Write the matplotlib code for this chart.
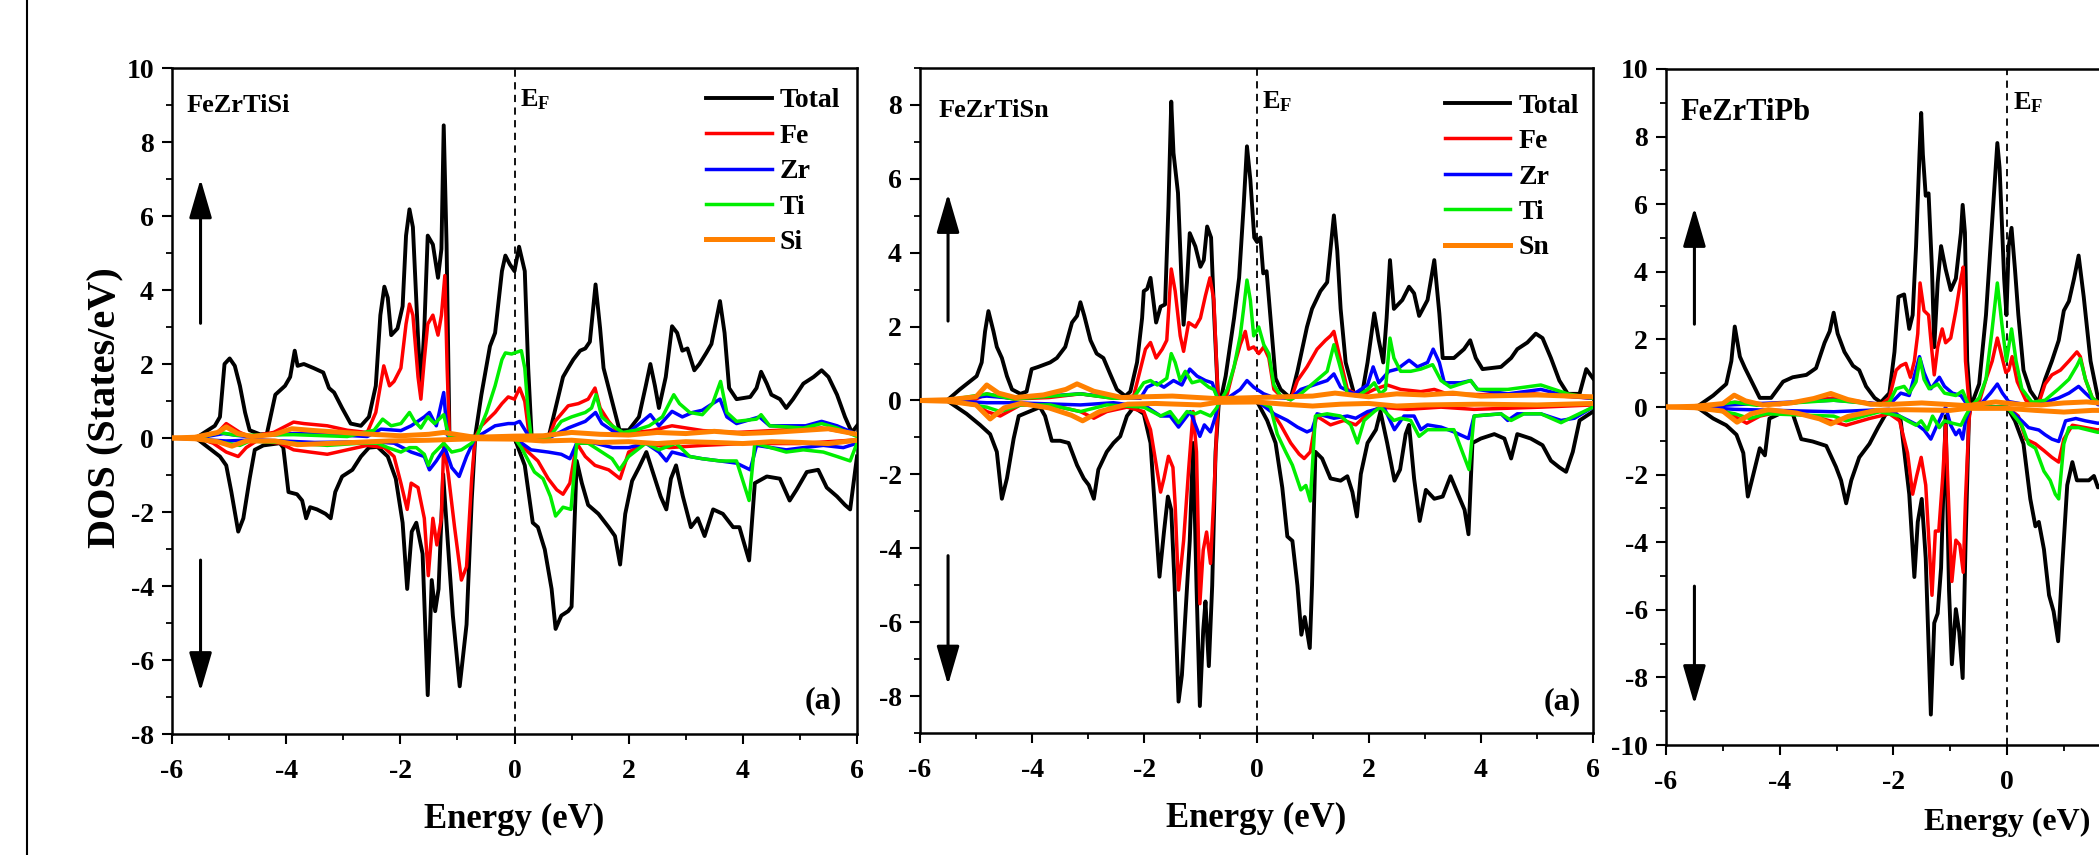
import numpy as np
import matplotlib
matplotlib.use("Agg")
import matplotlib.pyplot as plt
from matplotlib.lines import Line2D
from matplotlib.ticker import MultipleLocator

plt.rcParams['font.family'] = ['Liberation Serif', 'DejaVu Serif']
plt.rcParams['font.weight'] = 'bold'
plt.rcParams['axes.labelweight'] = 'bold'
plt.rcParams['axes.unicode_minus'] = False
plt.rcParams['mathtext.fontset'] = 'custom'
plt.rcParams['mathtext.rm'] = 'Liberation Serif:bold'
plt.rcParams['mathtext.bf'] = 'Liberation Serif:bold'

# ---------------- FeZrTiSi ----------------
si_total_up = [(-6,0),(-5.58,0),(-5.25,0.33),(-5.16,0.57),(-5.08,2.0),(-4.99,2.15),(-4.9,1.95),(-4.81,1.41),(-4.72,0.69),(-4.64,0.21),(-4.46,0.1),(-4.34,0.1),(-4.19,1.17),(-4.02,1.41),(-3.93,1.65),(-3.85,2.36),(-3.8,1.95),(-3.69,2.0),(-3.52,1.89),(-3.35,1.77),(-3.25,1.35),(-3.16,1.23),(-3.02,0.81),(-2.87,0.39),(-2.69,0.33),(-2.55,0.57),(-2.43,1.41),(-2.35,3.32),(-2.28,4.09),(-2.22,3.79),(-2.16,2.78),(-2.05,2.96),(-1.96,3.56),(-1.9,5.47),(-1.84,6.18),(-1.78,5.7),(-1.69,2.72),(-1.64,1.29),(-1.58,2.96),(-1.52,5.47),(-1.43,5.23),(-1.34,4.33),(-1.28,5.11),(-1.24,8.45),(-1.19,5.23),(-1.14,0.1),(-1.1,0),(-0.69,0.04),(-0.58,1.17),(-0.43,2.48),(-0.34,2.84),(-0.22,4.51),(-0.16,4.93),(-0.08,4.69),(0.0,4.51),(0.08,5.17),(0.18,4.51),(0.24,1.89),(0.3,0.04),(0.6,0.04),(0.85,1.65),(0.94,1.89),(1.03,2.12),(1.15,2.36),(1.24,2.42),(1.32,2.6),(1.42,4.15),(1.5,2.96),(1.56,1.89),(1.68,1.17),(1.84,0.21),(2.0,0.21),(2.18,0.57),(2.3,1.41),(2.38,2.0),(2.46,1.41),(2.53,0.81),(2.65,1.65),(2.76,3.02),(2.85,2.84),(2.94,2.36),(3.03,2.42),(3.15,1.83),(3.24,2.0),(3.36,2.3),(3.45,2.54),(3.6,3.7),(3.68,2.84),(3.76,1.35),(3.89,1.05),(4.13,1.11),(4.24,1.35),(4.32,1.79),(4.42,1.47),(4.5,1.17),(4.65,1.05),(4.76,0.81),(4.88,1.05),(5.06,1.47),(5.24,1.65),(5.38,1.83),(5.5,1.65),(5.65,1.17),(5.79,0.57),(5.91,0.15),(6.0,0.33)]
si_total_dn = [(-6,0),(-5.58,0),(-5.16,-0.5),(-5.05,-0.74),(-4.96,-1.46),(-4.84,-2.53),(-4.75,-2.17),(-4.64,-1.1),(-4.55,-0.32),(-4.4,-0.2),(-4.11,-0.14),(-4.05,-0.26),(-3.96,-1.46),(-3.81,-1.52),(-3.72,-1.69),(-3.65,-2.17),(-3.58,-1.87),(-3.46,-1.93),(-3.31,-2.05),(-3.22,-2.17),(-3.14,-1.46),(-3.02,-1.04),(-2.84,-0.86),(-2.69,-0.5),(-2.55,-0.26),(-2.4,-0.24),(-2.22,-0.5),(-2.08,-1.1),(-1.96,-2.29),(-1.88,-4.08),(-1.8,-2.53),(-1.72,-2.29),(-1.61,-3.13),(-1.52,-6.95),(-1.45,-3.84),(-1.39,-4.68),(-1.33,-4.08),(-1.25,-0.98),(-1.16,-3.01),(-1.08,-4.8),(-0.96,-6.71),(-0.84,-5.04),(-0.75,-1.69),(-0.69,-0.02),(0.0,0),(0.18,-0.74),(0.32,-2.29),(0.41,-2.41),(0.53,-3.01),(0.65,-4.08),(0.72,-5.16),(0.82,-4.8),(0.94,-4.68),(1.0,-4.56),(1.09,-0.62),(1.18,-1.22),(1.29,-1.81),(1.47,-2.05),(1.65,-2.41),(1.76,-2.65),(1.85,-3.42),(1.94,-2.05),(2.06,-1.16),(2.18,-0.8),(2.31,-0.38),(2.41,-0.86),(2.56,-1.58),(2.66,-1.93),(2.74,-1.1),(2.83,-0.74),(2.95,-1.58),(3.09,-2.41),(3.21,-2.17),(3.33,-2.65),(3.48,-1.93),(3.65,-2.05),(3.83,-2.41),(3.94,-2.41),(4.11,-3.31),(4.21,-1.22),(4.42,-1.04),(4.65,-1.1),(4.82,-1.69),(4.94,-1.4),(5.12,-0.92),(5.32,-0.86),(5.47,-1.34),(5.65,-1.58),(5.79,-1.81),(5.88,-1.93),(6.0,-0.5)]
si_fe_up = [(-6,0),(-5.5,0.02),(-5.2,0.15),(-5.05,0.39),(-4.81,0.15),(-4.64,0.04),(-4.22,0.15),(-3.87,0.43),(-3.69,0.39),(-3.28,0.33),(-2.93,0.21),(-2.58,0.15),(-2.43,0.69),(-2.29,1.95),(-2.19,1.41),(-2.11,1.53),(-1.99,1.89),(-1.9,3.08),(-1.84,3.62),(-1.78,3.32),(-1.69,1.65),(-1.64,1.05),(-1.58,2.12),(-1.52,3.08),(-1.43,3.32),(-1.34,2.78),(-1.28,3.32),(-1.22,4.39),(-1.18,1.89),(-1.14,0.04),(-0.69,0.02),(-0.58,0.33),(-0.34,0.69),(-0.22,0.93),(-0.11,1.11),(0,1.05),(0.09,1.35),(0.18,0.99),(0.26,0.04),(0.6,0.02),(0.71,0.45),(0.94,0.87),(1.12,0.93),(1.29,1.05),(1.41,1.35),(1.5,0.81),(1.65,0.45),(1.84,0.1),(2.4,0.2),(2.76,0.33),(3.3,0.2),(3.9,0.15),(4.5,0.2),(5.38,0.27),(6.0,0.1)]
si_fe_dn = [(-6,0),(-5.5,-0.02),(-5.28,-0.14),(-5.05,-0.38),(-4.84,-0.5),(-4.7,-0.26),(-4.52,-0.08),(-4.11,-0.14),(-3.87,-0.32),(-3.58,-0.38),(-3.28,-0.44),(-2.93,-0.32),(-2.58,-0.2),(-2.28,-0.26),(-2.11,-0.5),(-1.99,-1.22),(-1.88,-1.93),(-1.81,-1.22),(-1.69,-1.34),(-1.58,-2.17),(-1.51,-3.72),(-1.43,-2.17),(-1.36,-2.89),(-1.28,-2.17),(-1.24,-0.14),(-1.16,-0.98),(-1.05,-2.41),(-0.93,-3.84),(-0.84,-3.48),(-0.75,-1.1),(-0.69,0),(0,0),(0.24,-0.38),(0.41,-0.62),(0.59,-1.1),(0.74,-1.4),(0.85,-1.52),(0.97,-1.22),(1.09,-0.14),(1.24,-0.5),(1.41,-0.74),(1.65,-0.86),(1.85,-1.1),(2.0,-0.38),(2.3,-0.14),(2.71,-0.26),(3.3,-0.2),(4.0,-0.15),(5.0,-0.15),(6.0,-0.05)]
si_zr_up = [(-6,0),(-5.5,0.01),(-5.1,0.12),(-4.7,0.04),(-3.87,0.12),(-3.28,0.1),(-2.58,0.04),(-2.34,0.24),(-1.99,0.2),(-1.81,0.33),(-1.58,0.57),(-1.49,0.69),(-1.37,0.33),(-1.24,1.23),(-1.18,0.1),(-1.14,0),(-0.69,0),(-0.58,0.1),(-0.34,0.33),(-0.11,0.39),(0,0.39),(0.09,0.45),(0.21,0.15),(0.29,0),(0.6,0),(0.94,0.27),(1.24,0.45),(1.42,0.69),(1.53,0.39),(1.76,0.15),(2.0,0.15),(2.24,0.45),(2.38,0.63),(2.53,0.33),(2.76,0.72),(2.94,0.57),(3.12,0.69),(3.29,0.75),(3.47,0.93),(3.6,1.05),(3.72,0.57),(3.89,0.39),(4.29,0.57),(4.47,0.33),(4.76,0.33),(5.1,0.33),(5.38,0.45),(5.65,0.33),(6.0,0.1)]
si_zr_dn = [(-6,0),(-5.05,-0.08),(-4.5,-0.05),(-3.5,-0.12),(-2.5,-0.1),(-2.11,-0.14),(-1.81,-0.38),(-1.58,-0.5),(-1.49,-0.86),(-1.37,-0.62),(-1.22,-0.26),(-1.1,-0.8),(-0.97,-1.04),(-0.84,-0.5),(-0.69,0),(0,0),(0.29,-0.32),(0.59,-0.38),(0.82,-0.44),(0.97,-0.56),(1.09,-0.14),(1.41,-0.14),(1.72,-0.26),(2.0,-0.26),(2.3,-0.14),(2.53,-0.38),(2.66,-0.62),(2.76,-0.38),(3.07,-0.5),(3.29,-0.56),(3.6,-0.62),(3.89,-0.68),(4.13,-0.86),(4.24,-0.2),(4.76,-0.32),(5.06,-0.26),(5.41,-0.2),(5.76,-0.26),(6.0,-0.14)]
si_ti_up = [(-6,0),(-5.5,0.02),(-5.16,0.15),(-4.87,0.07),(-3.87,0.09),(-2.93,0.04),(-2.46,0.21),(-2.31,0.51),(-2.16,0.33),(-1.99,0.39),(-1.84,0.69),(-1.75,0.45),(-1.64,0.27),(-1.52,0.57),(-1.4,0.39),(-1.24,0.63),(-1.16,0.1),(-1.12,0),(-0.66,0.04),(-0.49,0.69),(-0.34,1.41),(-0.22,2.12),(-0.16,2.3),(-0.05,2.27),(0,2.3),(0.12,2.36),(0.18,1.89),(0.24,0.69),(0.29,0.04),(0.6,0),(0.82,0.45),(1.0,0.57),(1.24,0.69),(1.35,0.81),(1.43,1.17),(1.53,0.57),(1.71,0.33),(1.9,0.15),(2.12,0.21),(2.36,0.33),(2.59,0.57),(2.79,1.17),(2.89,0.93),(3.07,0.69),(3.29,0.63),(3.47,0.93),(3.61,1.53),(3.72,0.69),(3.89,0.45),(4.24,0.51),(4.32,0.63),(4.47,0.33),(5.06,0.27),(5.38,0.39),(5.65,0.27),(6.0,0.04)]
si_ti_dn = [(-6,0),(-5.5,-0.02),(-5.05,-0.14),(-4.81,-0.2),(-4.64,-0.08),(-3.87,-0.14),(-3.28,-0.2),(-2.69,-0.14),(-2.4,-0.14),(-2.22,-0.26),(-1.99,-0.38),(-1.84,-0.26),(-1.72,-0.26),(-1.58,-0.44),(-1.51,-0.74),(-1.43,-0.44),(-1.24,-0.14),(-1.1,-0.38),(-0.93,-0.32),(-0.75,-0.14),(-0.69,0),(0,0),(0.12,-0.26),(0.35,-0.92),(0.5,-1.1),(0.63,-1.58),(0.72,-2.11),(0.85,-1.87),(0.99,-1.93),(1.09,-0.14),(1.29,-0.14),(1.53,-0.38),(1.71,-0.56),(1.84,-0.86),(2.0,-0.5),(2.3,-0.14),(2.53,-0.32),(2.83,-0.14),(3.07,-0.5),(3.29,-0.56),(3.6,-0.62),(3.89,-0.62),(4.11,-1.69),(4.21,-0.14),(4.76,-0.38),(5.06,-0.32),(5.41,-0.38),(5.65,-0.5),(5.88,-0.62),(6.0,-0.14)]
si_si_up = [(-6,0),(-5.6,0.02),(-5.2,0.15),(-5.05,0.3),(-4.85,0.12),(-4.6,0.04),(-4.2,0.1),(-3.9,0.25),(-3.5,0.2),(-3.0,0.15),(-2.5,0.1),(-2.0,0.06),(-1.5,0.1),(-1.24,0.15),(-0.7,0.02),(0,0.05),(0.5,0.06),(1.0,0.15),(1.5,0.1),(2.0,0.08),(2.5,0.15),(3.0,0.12),(3.5,0.18),(4.0,0.12),(4.5,0.15),(5.0,0.2),(5.5,0.25),(6.0,0.1)]
si_si_dn = [(-6,0),(-5.6,-0.02),(-5.2,-0.1),(-4.95,-0.22),(-4.7,-0.08),(-4.2,-0.08),(-3.8,-0.18),(-3.3,-0.15),(-2.8,-0.12),(-2.2,-0.08),(-1.5,-0.06),(-0.7,-0.02),(0,-0.03),(0.5,-0.08),(1.0,-0.06),(1.5,-0.12),(2.0,-0.1),(2.5,-0.15),(3.0,-0.1),(3.5,-0.12),(4.0,-0.15),(4.5,-0.1),(5.0,-0.12),(5.5,-0.15),(6.0,-0.06)]

# ---------------- FeZrTiSn ----------------
sn_total_up = [(-6,0),(-5.52,0),(-5.29,0.3),(-4.99,0.66),(-4.9,1.03),(-4.84,1.87),(-4.78,2.42),(-4.69,1.87),(-4.63,1.45),(-4.54,1.15),(-4.45,0.66),(-4.36,0.3),(-4.21,0.18),(-4.1,0.24),(-4.01,0.85),(-3.89,0.91),(-3.68,1.03),(-3.56,1.15),(-3.41,1.45),(-3.29,2.11),(-3.2,2.29),(-3.14,2.66),(-3.07,2.29),(-2.96,1.63),(-2.85,1.27),(-2.73,1.15),(-2.61,0.72),(-2.49,0.3),(-2.34,0.12),(-2.25,0.24),(-2.13,1.03),(-2.04,2.23),(-2.01,2.96),(-1.95,3.02),(-1.89,3.32),(-1.85,2.84),(-1.79,2.11),(-1.71,2.54),(-1.63,2.6),(-1.57,5.25),(-1.52,8.09),(-1.48,6.7),(-1.4,5.62),(-1.33,2.96),(-1.3,2.05),(-1.24,3.2),(-1.19,4.53),(-1.09,4.17),(-1.0,3.62),(-0.94,3.8),(-0.88,4.71),(-0.81,4.41),(-0.76,2.48),(-0.69,0.18),(-0.64,0),(-0.55,0.66),(-0.4,2.23),(-0.31,3.32),(-0.23,5.25),(-0.17,6.88),(-0.11,5.98),(-0.04,4.41),(0.01,4.29),(0.07,4.41),(0.12,3.44),(0.18,3.5),(0.25,2.23),(0.34,0.6),(0.43,0.3),(0.61,0.06),(0.73,0.79),(0.9,1.99),(0.99,2.48),(1.14,2.96),(1.26,3.2),(1.38,5.01),(1.44,4.05),(1.5,2.48),(1.59,1.03),(1.74,0.18),(1.89,0.24),(1.98,1.03),(2.1,2.36),(2.18,1.63),(2.26,1.03),(2.32,2.23),(2.38,3.8),(2.45,2.48),(2.6,2.72),(2.72,3.08),(2.81,2.9),(2.9,2.29),(3.05,2.72),(3.17,3.8),(3.26,2.36),(3.32,1.15),(3.52,1.15),(3.7,1.39),(3.81,1.63),(3.91,1.15),(4.03,0.85),(4.36,0.91),(4.54,1.15),(4.65,1.39),(4.83,1.57),(4.98,1.81),(5.1,1.69),(5.25,1.15),(5.4,0.54),(5.55,0.18),(5.76,0.18),(5.88,0.85),(6.0,0.6)]
sn_total_dn = [(-6,0),(-5.52,0),(-5.17,-0.36),(-4.93,-0.66),(-4.75,-0.91),(-4.63,-1.39),(-4.54,-2.66),(-4.45,-2.11),(-4.33,-1.03),(-4.24,-0.42),(-4.1,-0.33),(-3.86,-0.18),(-3.77,-0.42),(-3.65,-1.09),(-3.5,-1.09),(-3.35,-1.15),(-3.2,-1.75),(-3.08,-2.11),(-2.99,-2.29),(-2.9,-2.66),(-2.82,-1.87),(-2.67,-1.39),(-2.55,-1.15),(-2.43,-0.97),(-2.31,-0.42),(-2.19,-0.18),(-2.01,-0.36),(-1.89,-1.15),(-1.8,-3.2),(-1.73,-4.77),(-1.65,-3.56),(-1.58,-2.6),(-1.52,-2.96),(-1.46,-5.01),(-1.39,-8.15),(-1.33,-7.43),(-1.27,-5.86),(-1.19,-3.8),(-1.13,-1.15),(-1.07,-5.01),(-1.01,-8.27),(-0.95,-6.22),(-0.91,-5.44),(-0.85,-7.19),(-0.79,-5.01),(-0.73,-1.39),(-0.67,0),(0,0),(0.19,-0.54),(0.34,-1.15),(0.46,-2.36),(0.55,-3.68),(0.64,-3.8),(0.73,-5.01),(0.8,-6.34),(0.86,-5.86),(0.95,-6.7),(0.99,-5.01),(1.05,-1.39),(1.17,-1.57),(1.32,-2.11),(1.5,-2.17),(1.62,-2.05),(1.71,-2.48),(1.79,-3.14),(1.86,-1.99),(1.98,-1.15),(2.13,-0.79),(2.21,-0.3),(2.33,-1.15),(2.46,-2.17),(2.56,-1.87),(2.66,-0.91),(2.72,-0.66),(2.81,-2.11),(2.91,-3.26),(3.02,-2.42),(3.17,-2.66),(3.32,-2.6),(3.46,-2.05),(3.61,-2.6),(3.71,-2.96),(3.78,-3.62),(3.85,-1.15),(4.0,-1.03),(4.24,-0.91),(4.42,-1.03),(4.54,-1.57),(4.65,-0.91),(4.89,-1.03),(5.1,-1.21),(5.25,-1.63),(5.4,-1.81),(5.52,-1.93),(5.64,-1.39),(5.76,-0.54),(6.0,-0.3)]
sn_fe_up = [(-6,0),(-5.5,0.01),(-5.0,0.04),(-4.81,0.18),(-4.33,0.04),(-3.7,0.08),(-3.14,0.18),(-2.55,0.06),(-2.19,0.12),(-2.04,1.03),(-1.98,1.39),(-1.89,1.57),(-1.79,1.15),(-1.68,1.39),(-1.6,1.63),(-1.52,3.56),(-1.45,2.96),(-1.36,1.75),(-1.3,1.33),(-1.21,2.11),(-1.09,1.99),(-1.0,2.23),(-0.91,2.84),(-0.83,3.32),(-0.76,2.72),(-0.69,0.18),(-0.64,0),(-0.52,0.18),(-0.38,1.03),(-0.29,1.51),(-0.2,1.87),(-0.14,1.39),(-0.05,1.45),(0.04,1.27),(0.13,1.45),(0.22,1.15),(0.31,0.3),(0.43,0.12),(0.61,0.02),(0.73,0.54),(0.9,0.91),(1.08,1.39),(1.23,1.63),(1.32,1.75),(1.38,1.87),(1.47,1.27),(1.62,0.3),(1.86,0.12),(2.1,0.3),(2.33,0.42),(2.57,0.3),(2.93,0.24),(3.17,0.3),(3.4,0.18),(4.0,0.16),(4.95,0.18),(5.43,0.12),(6.0,0.06)]
sn_fe_dn = [(-6,0),(-5.5,-0.01),(-5.0,-0.1),(-4.81,-0.3),(-4.57,-0.42),(-4.21,-0.12),(-3.68,-0.12),(-3.14,-0.3),(-2.9,-0.48),(-2.67,-0.3),(-2.31,-0.18),(-2.01,-0.3),(-1.89,-0.79),(-1.8,-1.63),(-1.71,-2.48),(-1.65,-2.11),(-1.57,-1.51),(-1.49,-1.81),(-1.45,-2.84),(-1.39,-5.13),(-1.3,-3.8),(-1.21,-1.87),(-1.13,-0.3),(-1.07,-1.39),(-1.01,-5.5),(-0.95,-4.05),(-0.89,-3.56),(-0.82,-4.41),(-0.76,-2.6),(-0.7,-0.42),(-0.67,0),(0,0),(0.25,-0.24),(0.43,-0.66),(0.61,-1.15),(0.76,-1.45),(0.85,-1.57),(0.96,-1.39),(1.07,-0.42),(1.32,-0.66),(1.56,-0.54),(1.77,-0.66),(1.98,-0.36),(2.21,-0.18),(2.69,-0.24),(3.29,-0.18),(3.88,-0.24),(5.07,-0.18),(6.0,-0.12)]
sn_zr_up = [(-6,0),(-5.5,0.01),(-4.81,0.12),(-4.33,0.06),(-3.14,0.18),(-2.55,0.08),(-2.07,0.06),(-1.95,0.36),(-1.79,0.48),(-1.65,0.36),(-1.48,0.54),(-1.33,0.42),(-1.19,0.85),(-1.06,0.66),(-0.91,0.54),(-0.79,0.48),(-0.69,0.05),(-0.64,0),(-0.52,0.06),(-0.29,0.3),(-0.17,0.54),(-0.05,0.36),(0.13,0.18),(0.31,0.08),(0.61,0.06),(0.79,0.3),(1.02,0.42),(1.26,0.54),(1.38,0.72),(1.5,0.36),(1.74,0.18),(1.98,0.42),(2.08,0.91),(2.18,0.48),(2.36,0.79),(2.51,0.85),(2.72,1.09),(2.87,0.91),(3.05,1.03),(3.15,1.39),(3.26,1.03),(3.35,0.48),(3.64,0.48),(3.82,0.54),(3.94,0.3),(4.48,0.18),(5.07,0.3),(5.55,0.12),(6.0,0.06)]
sn_zr_dn = [(-6,0),(-5.5,-0.01),(-4.81,-0.06),(-4.33,-0.06),(-3.14,-0.12),(-2.55,-0.06),(-1.95,-0.18),(-1.71,-0.42),(-1.54,-0.42),(-1.39,-0.72),(-1.3,-0.54),(-1.18,-0.3),(-1.09,-0.66),(-1.01,-0.97),(-0.93,-0.66),(-0.82,-0.85),(-0.73,-0.42),(-0.67,0),(0,0),(0.31,-0.36),(0.55,-0.54),(0.73,-0.72),(0.9,-0.85),(0.99,-0.79),(1.08,-0.36),(1.38,-0.48),(1.62,-0.42),(1.77,-0.48),(1.98,-0.3),(2.27,-0.18),(2.46,-0.79),(2.63,-0.42),(2.81,-0.42),(2.93,-0.79),(3.05,-0.66),(3.29,-0.72),(3.52,-0.85),(3.78,-1.03),(3.88,-0.42),(4.36,-0.36),(4.48,-0.54),(4.65,-0.36),(5.07,-0.36),(5.43,-0.54),(5.67,-0.48),(6.0,-0.18)]
sn_ti_up = [(-6,0),(-5.5,0.01),(-4.81,0.18),(-4.33,0.04),(-3.14,0.18),(-2.55,0.06),(-2.19,0.08),(-2.01,0.48),(-1.89,0.54),(-1.77,0.42),(-1.6,0.6),(-1.52,1.27),(-1.45,1.03),(-1.36,0.54),(-1.27,0.79),(-1.15,0.48),(-1.0,0.54),(-0.85,0.36),(-0.76,0.3),(-0.69,0.05),(-0.64,0),(-0.52,0.3),(-0.4,0.91),(-0.29,1.75),(-0.23,2.48),(-0.17,3.26),(-0.11,2.72),(-0.05,1.75),(0.04,1.99),(0.13,1.51),(0.22,1.27),(0.31,0.42),(0.43,0.12),(0.61,0.02),(0.79,0.18),(1.02,0.48),(1.26,0.79),(1.38,1.51),(1.47,1.03),(1.62,0.18),(1.8,0.12),(1.98,0.3),(2.1,0.48),(2.21,0.18),(2.3,0.3),(2.38,1.69),(2.45,1.15),(2.57,0.79),(2.75,0.79),(2.93,0.85),(3.14,0.97),(3.29,0.54),(3.46,0.36),(3.82,0.54),(3.94,0.3),(4.48,0.3),(5.07,0.42),(5.55,0.18),(6.0,0.06)]
sn_ti_dn = [(-6,0),(-5.5,-0.01),(-4.81,-0.18),(-4.57,-0.3),(-4.21,-0.12),(-3.68,-0.12),(-3.14,-0.3),(-2.67,-0.12),(-2.01,-0.18),(-1.71,-0.42),(-1.54,-0.3),(-1.39,-0.6),(-1.24,-0.3),(-1.09,-0.36),(-1.0,-0.3),(-0.82,-0.42),(-0.7,-0.18),(-0.67,0),(0,0),(0.25,-0.18),(0.37,-0.91),(0.52,-1.39),(0.64,-1.75),(0.79,-2.42),(0.88,-2.3),(0.96,-2.72),(1.05,-0.42),(1.26,-0.36),(1.5,-0.42),(1.68,-0.66),(1.8,-1.15),(1.92,-0.54),(2.1,-0.3),(2.21,-0.18),(2.45,-0.54),(2.57,-0.48),(2.75,-0.54),(2.9,-0.97),(3.05,-0.79),(3.52,-0.79),(3.79,-1.87),(3.88,-0.42),(4.36,-0.36),(4.54,-0.54),(4.77,-0.36),(5.07,-0.36),(5.43,-0.6),(5.67,-0.42),(6.0,-0.18)]
sn_sn_up = [(-6,0),(-5.5,0.02),(-5.0,0.1),(-4.81,0.42),(-4.6,0.2),(-4.3,0.08),(-3.8,0.15),(-3.4,0.3),(-3.2,0.45),(-2.9,0.25),(-2.4,0.08),(-2.0,0.1),(-1.5,0.12),(-0.7,0.05),(0,0.08),(0.5,0.1),(1.0,0.12),(1.4,0.2),(2.0,0.1),(2.5,0.18),(3.0,0.15),(3.5,0.2),(4.0,0.12),(5.0,0.15),(6.0,0.1)]
sn_sn_dn = [(-6,0),(-5.5,-0.02),(-5.0,-0.12),(-4.75,-0.5),(-4.5,-0.2),(-4.2,-0.08),(-3.7,-0.2),(-3.3,-0.4),(-3.1,-0.55),(-2.8,-0.3),(-2.3,-0.1),(-1.8,-0.08),(-1.0,-0.12),(-0.7,-0.05),(0,-0.04),(0.5,-0.1),(1.0,-0.15),(1.5,-0.1),(2.0,-0.08),(2.5,-0.15),(3.0,-0.12),(4.0,-0.1),(5.0,-0.12),(6.0,-0.08)]

# ---------------- FeZrTiPb ----------------
pb_total_up = [(-6,0),(-5.46,0),(-5.17,0.34),(-4.94,0.68),(-4.85,1.36),(-4.79,2.38),(-4.7,1.49),(-4.61,1.15),(-4.53,0.88),(-4.35,0.27),(-4.15,0.27),(-3.94,0.75),(-3.77,0.88),(-3.53,0.95),(-3.36,1.15),(-3.21,1.9),(-3.12,2.24),(-3.05,2.79),(-2.98,2.17),(-2.86,1.63),(-2.71,1.22),(-2.6,1.09),(-2.48,0.61),(-2.33,0.27),(-2.22,0.14),(-2.07,0.41),(-1.98,1.63),(-1.91,3.26),(-1.81,3.33),(-1.72,2.31),(-1.66,2.72),(-1.6,4.76),(-1.54,7.47),(-1.51,8.7),(-1.48,7.47),(-1.43,6.25),(-1.38,6.32),(-1.32,4.08),(-1.28,1.77),(-1.22,3.67),(-1.16,4.76),(-1.08,4.08),(-0.99,3.46),(-0.9,3.8),(-0.81,5.16),(-0.78,5.98),(-0.74,5.16),(-0.7,1.36),(-0.64,0),(-0.49,0.68),(-0.37,2.72),(-0.29,4.76),(-0.21,6.79),(-0.17,7.81),(-0.13,7.07),(-0.05,3.8),(-0.01,2.72),(0.03,4.76),(0.08,5.3),(0.14,4.08),(0.2,2.72),(0.29,1.09),(0.41,0.48),(0.55,0.14),(0.67,0.82),(0.79,1.36),(0.91,1.97),(1.0,2.85),(1.09,3.13),(1.18,3.8),(1.26,4.48),(1.35,3.26),(1.47,1.36),(1.6,0.27),(1.75,0.1)]
pb_total_dn = [(-6,0),(-5.46,0),(-5.17,-0.34),(-4.94,-0.54),(-4.76,-0.82),(-4.64,-1.36),(-4.56,-2.65),(-4.47,-2.04),(-4.35,-1.22),(-4.26,-1.43),(-4.18,-0.34),(-4.0,-0.2),(-3.77,-0.2),(-3.62,-0.95),(-3.42,-1.02),(-3.18,-1.15),(-3.01,-1.77),(-2.92,-2.17),(-2.83,-2.85),(-2.74,-2.17),(-2.6,-1.49),(-2.42,-1.09),(-2.27,-0.61),(-2.13,-0.2),(-1.98,-0.14),(-1.87,-0.41),(-1.72,-2.58),(-1.63,-5.03),(-1.57,-3.4),(-1.5,-2.72),(-1.43,-4.48),(-1.34,-9.1),(-1.28,-6.39),(-1.22,-6.11),(-1.16,-4.76),(-1.08,-0.27),(-1.02,-5.43),(-0.97,-7.61),(-0.9,-5.98),(-0.84,-6.66),(-0.78,-8.02),(-0.73,-4.08),(-0.67,-0.27),(-0.64,0),(0,0),(0.14,-0.41),(0.29,-1.09),(0.41,-2.72),(0.5,-3.53),(0.56,-3.4),(0.65,-4.21),(0.74,-5.57),(0.82,-6.05),(0.9,-6.93),(0.97,-4.76),(1.06,-2.31),(1.15,-1.63),(1.23,-2.17),(1.44,-2.17),(1.53,-2.04),(1.6,-2.38),(1.75,-2.2)]
pb_fe_up = [(-6,0),(-5.46,0),(-4.79,0.14),(-4.0,0.07),(-3.05,0.27),(-2.22,0.07),(-2.07,0.27),(-1.95,1.09),(-1.87,1.22),(-1.78,1.29),(-1.7,0.88),(-1.63,1.36),(-1.57,2.17),(-1.53,3.67),(-1.46,2.85),(-1.38,2.72),(-1.32,1.63),(-1.28,0.95),(-1.22,1.77),(-1.14,2.31),(-1.08,1.9),(-0.99,2.04),(-0.9,2.85),(-0.81,3.8),(-0.77,4.14),(-0.73,1.36),(-0.67,0.14),(-0.64,0),(-0.49,0.14),(-0.37,0.82),(-0.26,1.36),(-0.17,2.04),(-0.09,1.49),(-0.02,1.02),(0.03,1.09),(0.09,1.49),(0.18,0.75),(0.33,0.2),(0.55,0.07),(0.67,0.68),(0.79,0.95),(0.94,1.09),(1.09,1.36),(1.23,1.63),(1.29,1.49),(1.38,0.82),(1.5,0.27),(1.6,0.14),(1.75,0.1)]
pb_fe_dn = [(-6,0),(-5.46,0),(-4.94,-0.14),(-4.58,-0.48),(-4.35,-0.27),(-4.0,-0.14),(-3.42,-0.27),(-2.83,-0.54),(-2.42,-0.34),(-2.07,-0.2),(-1.89,-0.41),(-1.75,-1.36),(-1.66,-2.58),(-1.59,-2.04),(-1.51,-1.49),(-1.43,-2.31),(-1.37,-4.08),(-1.32,-5.57),(-1.26,-3.67),(-1.2,-3.67),(-1.13,-2.04),(-1.08,-0.54),(-1.03,-2.72),(-0.97,-5.16),(-0.9,-3.94),(-0.83,-4.08),(-0.77,-4.89),(-0.73,-2.72),(-0.67,-0.41),(-0.64,0),(0,0),(0.2,-0.27),(0.33,-0.95),(0.5,-1.09),(0.65,-1.29),(0.79,-1.49),(0.91,-1.63),(1.0,-0.95),(1.15,-0.54),(1.38,-0.61),(1.6,-0.68),(1.75,-0.6)]
pb_zr_up = [(-6,0),(-5.46,0),(-4.79,0.07),(-3.05,0.2),(-2.07,0.07),(-1.95,0.27),(-1.87,0.41),(-1.72,0.34),(-1.54,1.49),(-1.46,1.02),(-1.34,0.54),(-1.19,0.88),(-1.1,0.61),(-0.96,0.41),(-0.81,0.34),(-0.73,0.14),(-0.64,0),(-0.43,0.14),(-0.29,0.41),(-0.17,0.68),(-0.08,0.41),(0.03,0.16),(0.33,0.07),(0.67,0.14),(0.91,0.27),(1.09,0.41),(1.26,0.61),(1.38,0.41),(1.6,0.07),(1.75,0.05)]
pb_zr_dn = [(-6,0),(-5.46,0),(-4.79,-0.07),(-3.05,-0.14),(-2.07,-0.07),(-1.89,-0.27),(-1.72,-0.41),(-1.57,-0.54),(-1.46,-0.68),(-1.34,-0.95),(-1.25,-0.61),(-1.08,0),(-0.99,-0.54),(-0.9,-0.82),(-0.84,-0.68),(-0.78,-0.95),(-0.73,-0.41),(-0.64,0),(0,0),(0.26,-0.41),(0.38,-0.61),(0.56,-0.68),(0.67,-0.82),(0.79,-0.95),(0.91,-1.02),(1.03,-0.41),(1.21,-0.34),(1.38,-0.41),(1.6,-0.48),(1.75,-0.45)]
pb_ti_up = [(-6,0),(-5.46,0),(-4.79,0.14),(-4.4,0.05),(-3.05,0.2),(-2.22,0.07),(-2.07,0.14),(-1.95,0.54),(-1.81,0.61),(-1.72,0.41),(-1.6,0.75),(-1.53,1.43),(-1.46,0.82),(-1.37,0.54),(-1.22,0.68),(-1.1,0.41),(-0.9,0.34),(-0.78,0.48),(-0.7,0.14),(-0.64,0),(-0.49,0.27),(-0.37,0.82),(-0.27,2.17),(-0.17,3.67),(-0.09,2.45),(-0.01,1.36),(0.08,2.31),(0.16,1.36),(0.26,0.54),(0.44,0.14),(0.67,0.2),(0.91,0.54),(1.09,0.82),(1.23,1.22),(1.29,1.43),(1.38,0.82),(1.5,0.27),(1.6,0.14),(1.75,0.1)]
pb_ti_dn = [(-6,0),(-5.46,0),(-4.79,-0.2),(-4.53,-0.34),(-4.24,-0.2),(-3.05,-0.27),(-2.83,-0.41),(-2.24,-0.14),(-1.89,-0.27),(-1.75,-0.41),(-1.6,-0.54),(-1.51,-0.41),(-1.4,-0.68),(-1.31,-0.27),(-1.19,-0.61),(-1.1,-0.41),(-0.96,-0.48),(-0.81,-0.54),(-0.73,-0.27),(-0.64,0),(0,0),(0.26,-0.54),(0.38,-1.09),(0.5,-1.22),(0.65,-1.9),(0.76,-2.17),(0.85,-2.58),(0.91,-2.72),(1.0,-1.09),(1.09,-0.61),(1.26,-0.61),(1.6,-0.75),(1.75,-0.7)]
pb_pb_up = [(-6,0),(-5.5,0.02),(-5.0,0.1),(-4.8,0.35),(-4.6,0.18),(-4.3,0.06),(-3.8,0.12),(-3.4,0.25),(-3.1,0.4),(-2.8,0.22),(-2.4,0.08),(-2.0,0.08),(-1.5,0.12),(-0.7,0.04),(-0.2,0.15),(0.2,0.08),(0.6,0.06),(1.0,0.12),(1.4,0.15),(1.75,0.1)]
pb_pb_dn = [(-6,0),(-5.5,-0.02),(-5.0,-0.12),(-4.75,-0.45),(-4.5,-0.2),(-4.2,-0.08),(-3.7,-0.18),(-3.3,-0.35),(-3.1,-0.5),(-2.8,-0.28),(-2.3,-0.1),(-1.8,-0.08),(-1.0,-0.1),(-0.7,-0.04),(0,-0.04),(0.5,-0.1),(1.0,-0.15),(1.5,-0.1),(1.75,-0.1)]

energy_ticks = [-6, -4, -2, 0, 2, 4, 6]
colors = ['black', '#ff0000', '#0000ff', '#00ee00', '#ff8000']


def draw_panel(ax, curves, labels, ylim, name, name_pos, name_size, ef_y,
               arrow_up, arrow_dn, legend_y=None, tag_pos=None,
               shown_ticks=None, xlabel_size=25, xlabel_pad=14):
    for i, (up, dn) in enumerate(curves):
        lw = 3.6 if i == 4 else (2.8 if i == 0 else 2.5)
        for k, c in enumerate((up, dn)):
            e = [p[0] for p in c]
            d = [p[1] for p in c]
            ax.plot(e, d, color=colors[i], lw=lw, solid_joinstyle='round',
                    label=labels[i] if k == 0 else None, zorder=2 + i)
    ax.axvline(0, color='k', lw=1.3, ls=(0, (4, 3)), zorder=1)
    ax.set_xlim(-6, 6)
    ax.set_ylim(*ylim)
    ax.set_xticks(energy_ticks)
    if shown_ticks is None:
        ax.set_xticklabels([str(t) for t in energy_ticks])
    else:
        ax.set_xticklabels([str(t) if t in shown_ticks else '' for t in energy_ticks])
    ax.xaxis.set_minor_locator(MultipleLocator(1))
    ax.yaxis.set_major_locator(MultipleLocator(2))
    ax.yaxis.set_minor_locator(MultipleLocator(1))
    ax.tick_params(which='major', direction='out', length=7, width=1.5,
                   labelsize=20, pad=6)
    ax.tick_params(which='minor', direction='out', length=4, width=1.3)
    ax.tick_params(axis='x', which='major', pad=11)
    for s in ax.spines.values():
        s.set_linewidth(1.8)
    ax.set_xlabel('Energy (eV)', fontsize=xlabel_size, labelpad=xlabel_pad)

    ax.text(name_pos[0], name_pos[1], name, fontsize=name_size,
            ha='left', va='center')
    ax.text(0.1, ef_y, r'$\mathbf{E_F}$', fontsize=19, ha='left', va='center')

    ax_x = -5.5
    head = dict(arrowstyle='-|>,head_length=1.2,head_width=0.35', lw=2.2,
                color='k', mutation_scale=20, shrinkA=0, shrinkB=0)
    ax.annotate('', xy=(ax_x, arrow_up[1]), xytext=(ax_x, arrow_up[0]),
                arrowprops=head)
    ax.annotate('', xy=(ax_x, arrow_dn[1]), xytext=(ax_x, arrow_dn[0]),
                arrowprops=head)

    if legend_y is not None:
        ax.legend(loc='upper left', bbox_to_anchor=(0.78, legend_y),
                  frameon=False, fontsize=20, handlelength=2.35,
                  handletextpad=0.3, labelspacing=0.36, borderpad=0,
                  borderaxespad=0)
    if tag_pos is not None:
        ax.text(tag_pos[0], tag_pos[1], '(a)', fontsize=23, ha='center',
                va='center')


fig = plt.figure(figsize=(20.99, 8.55), dpi=100)

ax1 = fig.add_axes([172 / 2099, 121 / 855, 685 / 2099, 666 / 855])
ax2 = fig.add_axes([920 / 2099, 122 / 855, 673 / 2099, 665 / 855])
ax3 = fig.add_axes([1666 / 2099, 110 / 855, 682 / 2099, 676 / 855])

draw_panel(ax1,
           [(si_total_up, si_total_dn), (si_fe_up, si_fe_dn), (si_zr_up, si_zr_dn),
            (si_ti_up, si_ti_dn), (si_si_up, si_si_dn)],
           ['Total', 'Fe', 'Zr', 'Ti', 'Si'], (-8, 10), 'FeZrTiSi',
           (-5.75, 9.0), 19, 9.15, (3.1, 7.0), (-3.3, -6.85),
           legend_y=0.97, tag_pos=(5.4, -7.1))
ax1.set_ylabel('DOS (States/eV)', fontsize=29)
ax1.yaxis.set_label_coords(-0.07, 0.49)

draw_panel(ax2,
           [(sn_total_up, sn_total_dn), (sn_fe_up, sn_fe_dn), (sn_zr_up, sn_zr_dn),
            (sn_ti_up, sn_ti_dn), (sn_sn_up, sn_sn_dn)],
           ['Total', 'Fe', 'Zr', 'Ti', 'Sn'], (-9, 9), 'FeZrTiSn',
           (-5.67, 7.85), 19, 8.1, (2.15, 5.6), (-4.2, -7.7),
           legend_y=0.962, tag_pos=(5.45, -8.15))

draw_panel(ax3,
           [(pb_total_up, pb_total_dn), (pb_fe_up, pb_fe_dn), (pb_zr_up, pb_zr_dn),
            (pb_ti_up, pb_ti_dn), (pb_pb_up, pb_pb_dn)],
           ['Total', 'Fe', 'Zr', 'Ti', 'Pb'], (-10, 10), 'FeZrTiPb',
           (-5.75, 8.7), 22, 9.0, (2.45, 5.9), (-5.3, -8.8),
           shown_ticks=[-6, -4, -2, 0], xlabel_size=23, xlabel_pad=9)

# frame line on the left side of the page
fig.add_artist(Line2D([27 / 2099, 27 / 2099], [0, 1], color='k', lw=1.5,
                      transform=fig.transFigure))

fig.savefig('out.png', dpi=100, facecolor='white')
